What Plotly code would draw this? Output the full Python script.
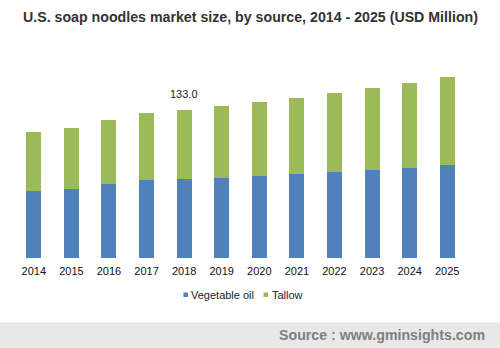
import plotly.graph_objects as go

# U.S. soap noodles market size by source (USD Million)
years = ["2014", "2015", "2016", "2017", "2018", "2019",
         "2020", "2021", "2022", "2023", "2024", "2025"]
vegetable_oil = [60.0, 61.8, 66.3, 70.0, 70.9, 71.8, 73.8, 75.6, 77.4, 79.2, 81.0, 83.7]
tallow = [53.2, 55.0, 57.7, 60.3, 62.1, 64.8, 66.7, 68.5, 71.2, 73.9, 76.6, 79.3]
series_names = ["Vegetable oil", "Tallow"]
series_colors = ["#4F81BD", "#9BBB59"]
labelled_year = "2018"

W, H = 500, 348
ML, MR, MT, MB = 15, 34.4, 58, 90
PW, PH = W - ML - MR, H - MT - MB


def px_x(x):
    return (x - ML) / PW


def px_y(y):
    return (H - MB - y) / PH


fig = go.Figure()
for name, vals, color in zip(series_names, [vegetable_oil, tallow], series_colors):
    fig.add_trace(go.Bar(x=years, y=vals, name=name, marker_color=color,
                         marker_line_width=0, width=0.4, showlegend=False))

idx = years.index(labelled_year)
total = round(vegetable_oil[idx] + tallow[idx], 1)

annotations = [
    # category index position of the labelled bar
    dict(x=idx, y=total, text=f"{total:.1f}", showarrow=False,
         xref="x", yref="y", yanchor="bottom", yshift=8,
         font=dict(family="Liberation Sans, Arial", size=11, color="#222")),
    dict(x=px_x(250.5), y=px_y(16.5), xref="paper", yref="paper", showarrow=False,
         text="<b>U.S. soap noodles market size, by source, 2014 - 2025 (USD Million)</b>",
         font=dict(family="Liberation Sans, Arial", size=14.2, color="#333"),
         xanchor="center", yanchor="middle"),
    dict(x=px_x(487), y=px_y(335), xref="paper", yref="paper", showarrow=False,
         text="<b>Source : www.gminsights.com</b>",
         font=dict(family="Liberation Sans, Arial", size=14.2, color="#7f7f7f"),
         xanchor="right", yanchor="middle"),
]

shapes = [
    dict(type="rect", xref="paper", yref="paper", x0=px_x(0), x1=px_x(W),
         y0=px_y(322.5), y1=px_y(H), fillcolor="#E8E8E8", line_width=0, layer="below"),
]

# manual legend: small squares with labels
legend_pos = [(183.3, 189.3), (263.3, 269.8)]
for (sx, tx), name, color in zip(legend_pos, series_names, series_colors):
    shapes.append(dict(type="rect", xref="paper", yref="paper",
                       x0=px_x(sx), x1=px_x(sx + 4.5), y0=px_y(292.5), y1=px_y(297),
                       fillcolor=color, line_width=0))
    annotations.append(dict(x=px_x(tx), y=px_y(295), xref="paper", yref="paper",
                            text=name, showarrow=False, xanchor="left", yanchor="middle",
                            font=dict(family="Liberation Sans, Arial", size=11, color="#222")))

fig.update_layout(
    barmode="stack",
    width=W, height=H,
    margin=dict(l=ML, r=MR, t=MT, b=MB, pad=0),
    paper_bgcolor="white", plot_bgcolor="white",
    showlegend=False,
    annotations=annotations,
    shapes=shapes,
    xaxis=dict(type="category", range=[-0.5, 11.5], showline=False, showgrid=False,
               ticks="", zeroline=False, ticklabelstandoff=5,
               tickfont=dict(family="Liberation Sans, Arial", size=11, color="#111")),
    yaxis=dict(range=[0, 180], visible=False, showgrid=False, zeroline=False),
)

fig.write_html("out.html")
